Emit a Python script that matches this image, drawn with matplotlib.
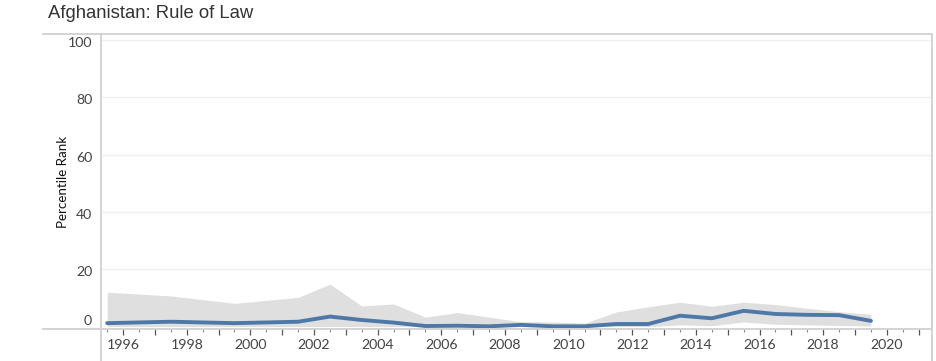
import matplotlib.pyplot as plt
import matplotlib.transforms as mtransforms
from matplotlib.lines import Line2D

# --- dados ---
anos = [1996, 1998, 2000, 2002, 2003, 2004, 2005, 2006, 2007, 2008, 2009,
        2010, 2011, 2012, 2013, 2014, 2015, 2016, 2017, 2018, 2019, 2020]
percentil = [1.2, 1.7, 1.2, 1.7, 3.5, 2.3, 1.4, 0.2, 0.3, 0.1, 0.6,
             0.1, 0.1, 0.9, 0.9, 3.8, 2.9, 5.5, 4.4, 4.1, 4.0, 2.0]
limite_sup = [12.0, 10.7, 8.1, 10.2, 14.8, 7.2, 7.9, 3.3, 4.9, 3.3, 1.7,
              1.6, 1.2, 5.1, 6.9, 8.5, 7.1, 8.5, 7.7, 6.4, 5.2, 4.3]
limite_inf = [0.0, 0.0, 0.0, 0.0, 0.0, 0.0, 0.0, 0.0, 0.0, 0.0, 0.0,
              0.0, 0.0, 0.0, 0.0, 0.6, 0.3, 1.6, 0.8, 0.6, 0.4, 0.2]
anos_rotulo = list(range(1996, 2021, 2))
y_ticks = [0, 20, 40, 60, 80, 100]

W, H = 936, 361
fig = plt.figure(figsize=(W / 100, H / 100), dpi=100)
ax = fig.add_axes([100.5 / W, (H - 329) / H, (931.7 - 100.5) / W, (329 - 34) / H])

# --- faixa e linha ---
ax.fill_between(anos, limite_inf, limite_sup, color="#e0dfe0", lw=0, zorder=1)
ax.plot(anos, percentil, color="#4e79a7", lw=2.8, solid_capstyle="round", zorder=3)

ax.set_xlim(1995.79, 2021.91)
ax.set_ylim(-0.84, 102.1)

# --- eixo y ---
ax.set_yticks(y_ticks)
ax.set_yticklabels([str(v) for v in y_ticks])
ax.tick_params(axis="y", length=0, pad=6, labelsize=10.2, labelcolor="#444444")
for v in y_ticks[1:]:
    ax.axhline(v, color="#efefef", lw=0.9, zorder=0)
for lbl in ax.get_yticklabels():
    lbl.set_fontfamily("Lato")
    dy = 4.5 / 72 if lbl.get_text() == "0" else -1.5 / 72
    lbl.set_transform(lbl.get_transform() + mtransforms.ScaledTranslation(0, dy, fig.dpi_scale_trans))
ax.set_ylabel("Percentile Rank", fontsize=9.6, fontfamily="Lato", color="#111111", labelpad=-1)

# --- eixo x ---
ax.set_xticks([a + 0.5 for a in range(1996, 2022)])
ax.set_xticklabels([str(a) if a in anos_rotulo else "" for a in range(1996, 2022)])
ax.set_xticks(list(range(1996, 2022)), minor=True)
ax.tick_params(axis="x", which="major", length=4.5, width=0.9, color="#555555",
               pad=3, labelsize=10.2, labelcolor="#444444")
ax.tick_params(axis="x", which="minor", length=2.2, width=0.8, color="#888888")
for lbl in ax.get_xticklabels():
    lbl.set_fontfamily("Lato")

for s in ax.spines.values():
    s.set_visible(False)

# --- bordas estilo Tableau ---
cor_borda = "#d3d3d3"
fig.add_artist(Line2D([43 / W, 932 / W], [1 - 34 / H, 1 - 34 / H], color=cor_borda, lw=1.4))
fig.add_artist(Line2D([43 / W, 932 / W], [1 - 329 / H, 1 - 329 / H], color=cor_borda, lw=1.4))
fig.add_artist(Line2D([100.5 / W, 100.5 / W], [0, 1 - 34 / H], color=cor_borda, lw=1.4))
fig.add_artist(Line2D([931.7 / W, 931.7 / W], [0, 1 - 34 / H], color=cor_borda, lw=1.4))

fig.text(48 / W, 1 - 18 / H, "Afghanistan: Rule of Law", fontsize=13.3,
         fontfamily="Liberation Sans", color="#333333", va="baseline", ha="left")

fig.savefig("out.png", dpi=100)
